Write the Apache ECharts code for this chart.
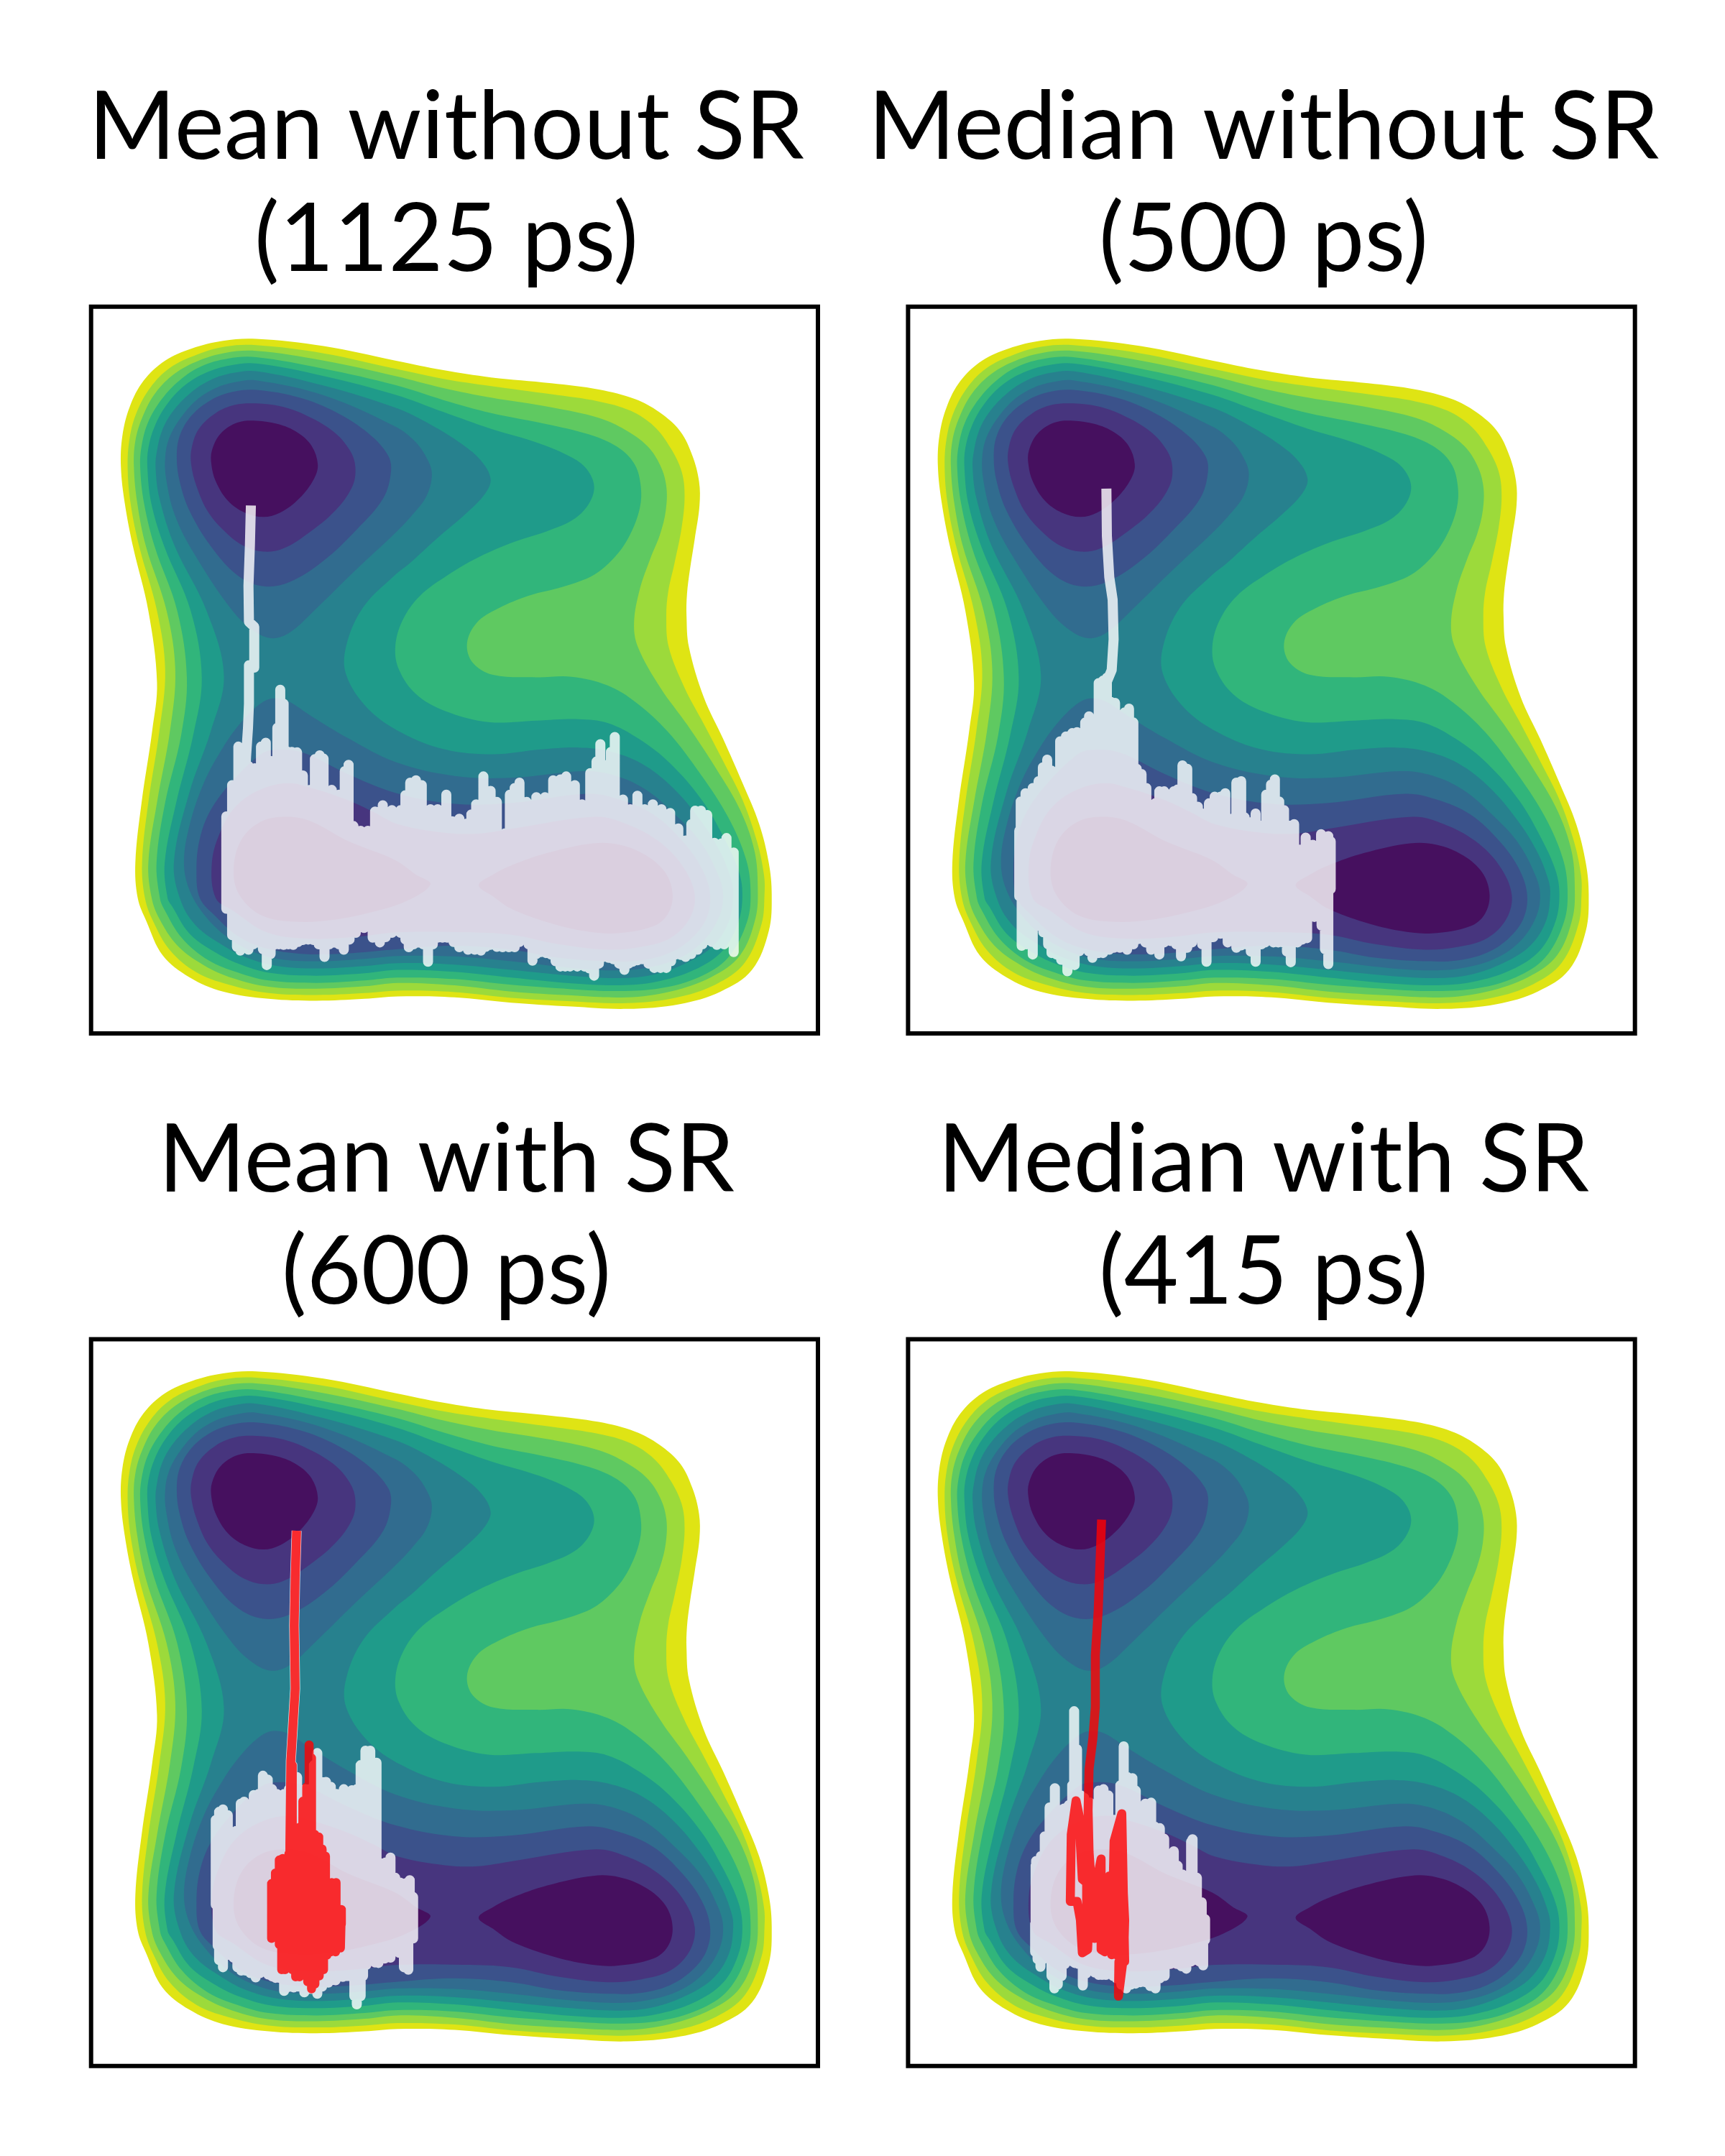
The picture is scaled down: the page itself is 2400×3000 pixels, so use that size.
<!DOCTYPE html>
<html>
<head>
<meta charset="utf-8">
<style>html,body{margin:0;padding:0;background:#fff}#c{width:2400px;height:3000px}</style>
<script src="https://cdn.jsdelivr.net/npm/echarts@6/dist/echarts.min.js"></script>
</head>
<body>
<div id="c"></div>
<script>
// ---- labels ----
const titleLine1 = ['Mean without SR', 'Median without SR', 'Mean with SR', 'Median with SR'];
const titleLine2 = ['(1125 ps)', '(500 ps)', '(600 ps)', '(415 ps)'];

// ---- filled contour bands, outermost first ----
const bandColors = ['#dfe414', '#9cda3b', '#5fc961', '#31b57b', '#1f9b8a', '#27818e', '#316c8f', '#3b528b', '#47357e', '#46105f'];
const level0 = [[368,92],[508,107],[657,137],[757,157],[856,172],[981,184],[1080,197],[1155,217],[1205,244],[1249,284],[1274,334],[1288,388],[1289,438],[1279,508],[1269,572],[1263,622],[1262,667],[1267,732],[1298,837],[1338,923],[1378,1014],[1413,1100],[1433,1181],[1439,1246],[1433,1322],[1398,1403],[1333,1448],[1248,1474],[1138,1484],[1023,1479],[898,1471],[780,1460],[662,1458],[593,1463],[493,1467],[394,1463],[299,1448],[229,1418],[174,1373],[140,1302],[122,1254],[117,1180],[130,1055],[152,906],[162,806],[144,657],[112,523],[95,433],[87,358],[90,294],[105,234],[134,179],[179,137],[234,112],[299,96]];
const level1 = [[368,105],[508,122],[657,154],[757,175],[856,190],[981,207],[1080,222],[1145,241],[1195,274],[1229,319],[1252,368],[1258,418],[1252,483],[1237,558],[1224,617],[1220,667],[1225,732],[1258,817],[1293,883],[1338,969],[1378,1049],[1408,1135],[1423,1206],[1424,1246],[1418,1307],[1383,1388],[1323,1433],[1238,1461],[1138,1472],[1023,1468],[898,1461],[780,1449],[662,1446],[593,1451],[493,1455],[394,1451],[309,1433],[244,1408],[189,1362],[154,1302],[137,1254],[131,1180],[144,1055],[167,906],[179,781],[162,657],[125,523],[107,433],[101,358],[105,299],[120,244],[149,192],[189,152],[244,125],[304,108]];
const level2 = [[368,117],[508,137],[657,169],[757,194],[856,214],[981,234],[1080,256],[1135,281],[1180,314],[1207,354],[1220,398],[1219,448],[1207,498],[1187,548],[1165,612],[1153,682],[1161,732],[1208,817],[1263,893],[1323,984],[1373,1070],[1403,1155],[1410,1231],[1405,1297],[1373,1373],[1313,1418],[1228,1448],[1138,1460],[1023,1456],[898,1448],[780,1435],[662,1430],[593,1437],[493,1442],[394,1438],[319,1420],[259,1393],[204,1352],[167,1297],[151,1254],[144,1180],[162,1055],[189,906],[200,781],[182,657],[139,523],[121,433],[114,358],[117,304],[132,254],[159,204],[199,164],[249,137],[304,121]];
const level3 = [[368,130],[508,154],[657,188],[757,219],[856,246],[981,271],[1070,294],[1125,321],[1155,354],[1167,398],[1165,443],[1145,498],[1115,543],[1070,582],[1005,607],[936,625],[871,652],[826,682],[806,725],[818,765],[860,790],[950,795],[1023,794],[1098,812],[1158,848],[1223,908],[1293,999],[1348,1085],[1385,1171],[1395,1236],[1388,1302],[1348,1378],[1288,1418],[1208,1441],[1123,1447],[1023,1443],[898,1434],[780,1422],[662,1419],[593,1425],[493,1430],[394,1425],[329,1408],[269,1383],[214,1337],[177,1277],[168,1254],[161,1180],[179,1055],[212,916],[224,796],[204,657],[157,523],[135,433],[127,358],[130,314],[144,264],[172,217],[209,178],[254,149],[309,133]];
const level4 = [[368,143],[508,169],[657,208],[757,244],[856,279],[956,309],[1025,339],[1055,363],[1070,398],[1060,433],[1030,465],[976,490],[906,513],[831,545],[767,582],[707,627],[672,677],[657,732],[665,780],[700,830],[760,865],[850,888],[950,885],[1038,882],[1098,890],[1163,923],[1228,974],[1293,1049],[1338,1125],[1370,1196],[1378,1246],[1370,1302],[1338,1362],[1278,1403],[1198,1428],[1123,1435],[1023,1431],[898,1419],[780,1407],[662,1403],[593,1410],[493,1415],[403,1410],[339,1393],[284,1367],[229,1327],[194,1272],[184,1254],[178,1180],[202,1055],[237,916],[255,796],[232,657],[177,523],[150,433],[142,358],[144,319],[157,274],[182,229],[219,189],[264,162],[314,147]];
const level5 = [[368,159],[508,189],[657,235],[732,271],[796,311],[836,346],[855,383],[844,413],[806,453],[742,508],[687,558],[657,582],[590,650],[555,730],[555,790],[600,860],[670,910],[760,945],[860,955],[960,945],[1038,941],[1098,948],[1168,974],[1233,1024],[1293,1095],[1333,1160],[1355,1216],[1359,1246],[1350,1302],[1318,1352],[1263,1388],[1193,1413],[1123,1420],[1023,1415],[898,1403],[780,1392],[662,1389],[593,1395],[493,1400],[413,1395],[349,1378],[299,1352],[244,1312],[212,1261],[197,1180],[229,1035],[274,906],[301,791],[265,657],[199,523],[167,423],[159,358],[162,324],[172,284],[194,244],[232,204],[274,177],[319,163]];
const level6Upper = [[368,178],[508,209],[657,274],[697,304],[722,339],[733,373],[722,418],[692,458],[657,495],[575,572],[488,657],[438,702],[403,714],[368,702],[319,657],[239,538],[199,458],[181,383],[179,338],[187,299],[209,259],[244,219],[284,194],[324,182]];
const level6Lower = [[403,839],[433,844],[483,876],[558,921],[657,971],[780,1000],[898,1004],[1048,990],[1113,999],[1178,1029],[1243,1085],[1293,1140],[1328,1206],[1338,1246],[1330,1292],[1298,1342],[1248,1378],[1183,1398],[1113,1404],[1023,1399],[898,1385],[780,1375],[662,1374],[593,1380],[493,1385],[413,1380],[354,1362],[304,1332],[259,1287],[229,1236],[218,1180],[229,1105],[259,1015],[299,941],[339,886],[378,849]];
const level7Upper = [[368,198],[458,214],[533,244],[602,289],[642,334],[648,368],[632,423],[577,488],[508,553],[438,597],[383,606],[329,583],[274,523],[229,448],[209,388],[203,339],[209,294],[234,251],[274,219],[319,202]];
const level7Lower = [[403,946],[463,951],[558,996],[657,1035],[780,1058],[898,1056],[1058,1037],[1123,1049],[1193,1080],[1253,1135],[1293,1191],[1311,1246],[1303,1297],[1273,1337],[1228,1367],[1168,1383],[1098,1385],[998,1378],[898,1361],[780,1353],[662,1360],[568,1368],[468,1370],[384,1357],[329,1332],[284,1292],[251,1254],[244,1195],[251,1130],[274,1070],[319,1010],[376,956]];
const level8Upper = [[368,226],[418,232],[468,249],[528,284],[563,324],[574,358],[568,398],[533,448],[473,498],[423,528],[383,534],[344,523],[309,498],[269,453],[244,398],[233,353],[234,319],[249,279],[284,246],[324,229]];
const level8Lower = [[433,1015],[483,1025],[558,1050],[612,1075],[662,1100],[760,1118],[830,1120],[898,1110],[1073,1085],[1138,1100],[1203,1135],[1253,1186],[1279,1246],[1268,1297],[1228,1337],[1168,1355],[1098,1361],[998,1350],[898,1330],[800,1325],[662,1325],[568,1335],[470,1338],[390,1325],[320,1280],[284,1254],[276,1180],[294,1115],[324,1065],[373,1030]];
const level9Upper = [[368,262],[413,269],[453,286],[483,314],[496,353],[488,383],[458,423],[418,453],[383,462],[344,453],[309,428],[284,388],[275,353],[276,324],[294,289],[329,266]];
const level9Left = [[321,1200],[336,1135],[378,1095],[433,1085],[483,1095],[558,1135],[657,1175],[700,1205],[730,1225],[680,1260],[600,1285],[520,1300],[450,1303],[380,1290],[335,1250]];
const level9Right = [[830,1227],[860,1205],[898,1186],[973,1160],[1068,1140],[1123,1143],[1178,1165],[1218,1201],[1233,1246],[1223,1287],[1193,1312],[1113,1327],[1048,1322],[973,1304],[898,1276],[860,1250]];

// ---- trajectories: lead-in, then upper and lower excursions ----
const meanPlainLead = [[357,438],[355,520],[352,605],[353,680],[364,690],[364,775],[353,770],[353,850],[351,900],[347,960],[345,1000],[340,1100],[340,1210]];
const meanPlainTop = [[306,1084],[318,1019],[331,939],[340,989],[352,979],[365,984],[378,939],[388,931],[400,969],[412,900],[418,821],[425,850],[432,949],[442,950],[453,951],[465,999],[480,1029],[490,965],[500,957],[508,964],[525,1029],[540,1039],[552,990],[560,977],[570,1104],[585,1114],[600,1114],[615,1074],[631,1061],[650,1071],[668,1071],[678,1040],[688,1014],[700,1009],[712,1019],[730,1069],[745,1069],[763,1039],[775,1094],[790,1089],[805,1099],[815,1080],[825,1059],[840,1001],[855,1031],[868,1054],[885,1119],[895,1039],[905,1025],[915,1014],[930,1054],[950,1044],[968,1044],[985,1009],[1000,1007],[1012,1001],[1030,1019],[1045,1059],[1062,994],[1075,970],[1083,934],[1097,977],[1105,950],[1113,919],[1130,1049],[1145,1069],[1160,1041],[1175,1069],[1192,1059],[1210,1069],[1228,1077],[1245,1109],[1260,1134],[1272,1100],[1280,1072],[1292,1072],[1305,1081],[1320,1139],[1335,1140],[1345,1129],[1360,1159]];
const meanPlainBottom = [[306,1276],[318,1331],[328,1355],[335,1363],[352,1361],[362,1350],[372,1346],[382,1360],[390,1393],[398,1370],[405,1351],[415,1350],[425,1351],[435,1350],[445,1351],[455,1345],[465,1341],[476,1340],[487,1341],[498,1350],[510,1376],[520,1350],[530,1346],[540,1350],[550,1361],[562,1340],[575,1326],[592,1316],[610,1336],[625,1346],[637,1335],[650,1326],[668,1326],[678,1340],[685,1356],[695,1350],[705,1346],[715,1350],[725,1386],[735,1350],[745,1336],[755,1336],[765,1336],[778,1345],[790,1356],[808,1361],[822,1361],[835,1363],[845,1355],[855,1351],[868,1355],[880,1356],[893,1356],[905,1356],[915,1345],[925,1336],[934,1350],[942,1384],[950,1370],[960,1366],[970,1368],[980,1371],[990,1385],[1000,1396],[1010,1396],[1020,1396],[1035,1396],[1050,1396],[1060,1400],[1070,1415],[1080,1390],[1090,1376],[1100,1378],[1110,1381],[1122,1390],[1133,1403],[1142,1390],[1150,1386],[1160,1383],[1170,1381],[1183,1390],[1195,1399],[1208,1399],[1220,1399],[1230,1385],[1240,1371],[1250,1372],[1260,1376],[1272,1370],[1285,1361],[1295,1350],[1305,1341],[1315,1345],[1325,1351],[1340,1350],[1360,1366]];

const medianPlainLead = [[437,403],[438,501],[443,587],[450,634],[452,716],[448,780],[433,816],[430,900],[430,1230]];
const medianPlainTop = [[256,1114],[259,1053],[269,1036],[284,1025],[296,1011],[305,982],[314,966],[323,989],[333,1007],[341,928],[353,918],[366,911],[376,909],[386,932],[393,889],[401,876],[411,885],[421,807],[430,802],[438,796],[446,846],[455,848],[465,907],[475,868],[484,860],[493,889],[500,985],[510,996],[520,1025],[530,1061],[538,1057],[547,1032],[557,1032],[567,1071],[577,1032],[585,1028],[595,978],[605,985],[615,1046],[627,1064],[640,1078],[650,1057],[662,1043],[674,1043],[684,1036],[694,1089],[707,1014],[717,1011],[724,1086],[734,1096],[747,1078],[759,1103],[769,1039],[779,1018],[787,1007],[796,1053],[806,1071],[816,1103],[827,1100],[839,1153],[851,1128],[866,1143],[883,1121],[898,1125],[903,1136]];
const medianPlainBottom = [[256,1250],[261,1353],[271,1350],[284,1371],[294,1311],[306,1325],[316,1350],[323,1368],[333,1371],[343,1382],[356,1406],[371,1393],[381,1364],[391,1350],[400,1364],[408,1378],[421,1368],[430,1368],[443,1361],[453,1357],[465,1357],[480,1361],[493,1350],[503,1339],[518,1346],[530,1361],[547,1371],[557,1346],[570,1343],[582,1350],[592,1375],[605,1357],[615,1346],[627,1335],[636,1350],[645,1386],[659,1335],[674,1328],[689,1346],[707,1357],[717,1352],[727,1350],[737,1365],[747,1386],[759,1350],[767,1346],[784,1346],[794,1346],[804,1346],[812,1365],[820,1387],[834,1346],[844,1340],[854,1337],[869,1293],[884,1311],[891,1360],[898,1391],[903,1235]];

const meanSrLead = [[452,423],[449,520],[447,620],[449,751],[443,851],[440,901],[438,1075],[438,1200]];
const meanSrTop = [[284,1024],[291,1007],[299,1002],[309,1014],[319,1052],[326,1047],[336,990],[343,986],[351,1000],[363,972],[373,970],[382,932],[392,940],[401,960],[411,970],[418,985],[426,970],[436,960],[443,910],[453,935],[460,975],[470,960],[478,960],[488,910],[495,885],[503,945],[513,945],[523,955],[535,970],[550,960],[567,962],[577,960],[585,910],[595,880],[605,880],[612,910],[618,905],[628,1114],[637,1112],[647,1102],[657,1144],[667,1154],[677,1156],[687,1149],[694,1184]];
const meanSrBottom = [[288,1285],[291,1315],[299,1330],[306,1305],[311,1285],[316,1285],[321,1310],[329,1330],[337,1337],[346,1337],[356,1342],[367,1351],[376,1342],[383,1337],[393,1345],[401,1349],[408,1352],[416,1352],[426,1379],[436,1371],[446,1372],[455,1370],[468,1382],[475,1375],[483,1375],[495,1385],[505,1370],[518,1362],[533,1357],[548,1350],[558,1348],[565,1348],[572,1390],[577,1407],[585,1390],[590,1348],[597,1325],[605,1310],[615,1320],[622,1321],[635,1312],[647,1310],[657,1293],[665,1300],[675,1330],[684,1335],[694,1270]];

const medianSrLead = [[430,1200]];
const medianSrTop = [[290,1119],[291,1109],[301,1099],[309,1058],[319,998],[330,958],[339,1003],[349,1000],[359,993],[366,952],[370,798],[376,877],[384,973],[391,978],[403,988],[413,993],[421,963],[431,960],[441,973],[448,1023],[458,1023],[466,952],[473,871],[481,935],[491,937],[498,963],[508,1003],[518,990],[530,988],[538,1038],[548,1041],[557,1063],[565,1094],[577,1089],[585,1119],[595,1137],[605,1180],[613,1069],[616,1064],[625,1144],[635,1195],[642,1230]];
const medianSrBottom = [[289,1298],[294,1313],[300,1329],[306,1313],[311,1298],[319,1263],[323,1348],[329,1374],[336,1366],[344,1348],[351,1323],[359,1313],[366,1318],[371,1321],[379,1323],[388,1368],[395,1343],[403,1333],[413,1341],[421,1346],[428,1346],[436,1346],[443,1343],[451,1348],[458,1353],[468,1366],[478,1374],[488,1366],[498,1364],[508,1361],[518,1361],[528,1369],[539,1374],[548,1353],[558,1348],[570,1323],[583,1323],[593,1328],[603,1333],[613,1318],[620,1260],[630,1318],[638,1326],[642,1273]];

const meanRedLead = [[452,423],[449,520],[447,620],[449,751],[443,851],[440,901],[438,1075],[438,1210]];
const meanRedTop = [[400,1156],[408,1134],[416,1107],[423,1104],[436,1094],[443,910],[450,1084],[458,1039],[465,985],[473,955],[478,868],[483,895],[490,1054],[498,1059],[505,1084],[512,1099],[518,1154],[525,1154],[534,1154],[543,1211]];
const meanRedBottom = [[400,1270],[408,1265],[416,1283],[421,1335],[428,1335],[436,1290],[443,1335],[450,1350],[458,1350],[468,1345],[475,1360],[483,1375],[490,1365],[499,1348],[508,1335],[515,1305],[523,1298],[533,1298],[543,1290],[545,1240]];

const medianRedPath = [[427,400],[424,482],[420,589],[414,682],[414,789],[409,854],[401,918],[399,1004],[401,1090],[406,1161],[403,1225],[409,1265],[396,1225],[396,1154],[387,1147],[383,1075],[381,1018],[374,984],[364,1054],[362,1193],[376,1193],[383,1232],[387,1300],[398,1293],[401,1225],[404,1150],[412,1160],[412,1270],[419,1250],[419,1140],[426,1105],[426,1293],[434,1298],[443,1140],[448,1304],[453,1068],[469,1011],[475,1318],[463,1318],[462,1390],[473,1304],[475,1232],[468,1090],[458,1075],[458,1304],[473,1311]];

// ---- assembly ----
const bandShapes = [
  [0, level0], [1, level1], [2, level2], [3, level3], [4, level4], [5, level5],
  [6, level6Upper], [6, level6Lower], [7, level7Upper], [7, level7Lower],
  [8, level8Upper], [8, level8Lower], [9, level9Upper], [9, level9Left], [9, level9Right]
];

function sweep(lead, tops, bottoms, mid) {
  const out = lead.slice();
  [tops, bottoms.slice().reverse()].forEach(function (list) {
    list.forEach(function (p) { out.push([p[0], mid], p, [p[0], mid]); });
  });
  return out;
}

const whitePaths = [
  sweep(meanPlainLead, meanPlainTop, meanPlainBottom, 1210),
  sweep(medianPlainLead, medianPlainTop, medianPlainBottom, 1230),
  sweep(meanSrLead, meanSrTop, meanSrBottom, 1200),
  sweep(medianSrLead, medianSrTop, medianSrBottom, 1240)
];
const redPaths = [null, null, sweep(meanRedLead, meanRedTop, meanRedBottom, 1210), medianRedPath];

const panelLeft = [126.7, 1263.4, 126.7, 1263.4];
const panelTop = [426.7, 426.7, 1863.4, 1863.4];
const panelSize = 1011.3;
const titleCenter = [621, 1758, 621, 1758];

const FONT = 'Lato';
const FONT_SIZE = 131;

const grids = [], xAxes = [], yAxes = [], series = [], graphics = [];
for (let i = 0; i < 4; i++) {
  grids.push({ show: true, left: panelLeft[i], top: panelTop[i], width: panelSize, height: panelSize,
    borderColor: '#000', borderWidth: 6, backgroundColor: '#fff', containLabel: false });
  xAxes.push({ type: 'value', gridIndex: i, min: 25, max: 1535, show: false });
  yAxes.push({ type: 'value', gridIndex: i, min: 25, max: 1535, inverse: true, show: false });
  series.push({
    type: 'custom', xAxisIndex: i, yAxisIndex: i, silent: true, animation: false, clip: false, z: 2,
    data: bandShapes.map(function (s, k) { return [k]; }),
    renderItem: function (params, api) {
      const s = bandShapes[params.dataIndex];
      return {
        type: 'polygon',
        shape: { points: s[1].map(function (p) { return api.coord(p); }), smooth: 0.36 },
        style: { fill: bandColors[s[0]], stroke: null }
      };
    }
  });
  series.push({
    type: 'line', xAxisIndex: i, yAxisIndex: i, data: whitePaths[i], showSymbol: false, symbol: 'none',
    silent: true, animation: false, z: 3,
    lineStyle: { color: '#ffffff', width: 14, opacity: 0.8, join: 'round', cap: 'butt' }
  });
  if (redPaths[i]) {
    series.push({
      type: 'line', xAxisIndex: i, yAxisIndex: i, data: redPaths[i], showSymbol: false, symbol: 'none',
      silent: true, animation: false, z: 4,
      lineStyle: { color: '#ff0000', width: 12.5, opacity: 0.8, join: 'round', cap: 'butt' }
    });
  }
  const base = panelTop[i] - 313;
  graphics.push({ type: 'text', x: titleCenter[i], y: base,
    style: { text: titleLine1[i], align: 'center', verticalAlign: 'top', fill: '#000',
      font: FONT_SIZE + 'px ' + FONT } });
  graphics.push({ type: 'text', x: titleCenter[i], y: base + 156,
    style: { text: titleLine2[i], align: 'center', verticalAlign: 'top', fill: '#000',
      font: FONT_SIZE + 'px ' + FONT } });
}

const chart = echarts.init(document.getElementById('c'), null, { renderer: 'canvas', width: 2400, height: 3000 });
chart.setOption({
  animation: false,
  backgroundColor: '#fff',
  grid: grids, xAxis: xAxes, yAxis: yAxes, series: series, graphic: graphics
});
</script>
</body>
</html>
